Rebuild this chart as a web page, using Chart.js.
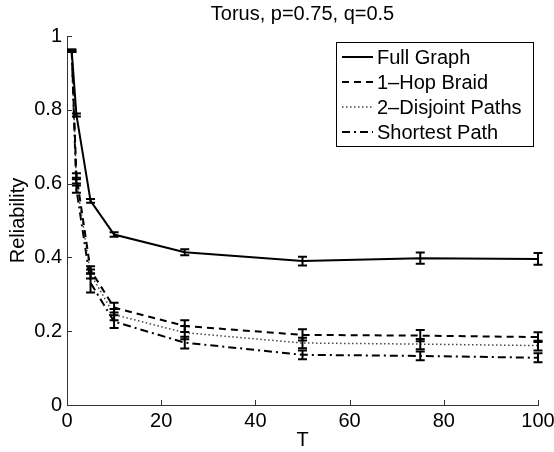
<!DOCTYPE html>
<html><head><meta charset="utf-8">
<script src="https://cdn.jsdelivr.net/npm/chart.js@4/dist/chart.umd.min.js"></script>
<style>html,body{margin:0;padding:0;background:#fff}#wrap{width:554px;height:452px}</style>
</head><body><div id="wrap"><canvas id="c" width="554" height="452"></canvas></div>
<script>
const T = [1, 2, 5, 10, 25, 50, 75, 100];
const seriesNames = ['Full Graph', '1\u2013Hop Braid', '2\u2013Disjoint Paths', 'Shortest Path'];
const fullGraph    = [0.960, 0.786, 0.553, 0.462, 0.414, 0.390, 0.398, 0.396];
const fullGraphErr = [0.003, 0.004, 0.005, 0.006, 0.008, 0.012, 0.015, 0.016];
const hopBraid     = [0.960, 0.622, 0.366, 0.264, 0.214, 0.190, 0.188, 0.184];
const hopBraidErr  = [0.003, 0.006, 0.010, 0.013, 0.016, 0.015, 0.015, 0.013];
const disjoint     = [0.960, 0.606, 0.355, 0.245, 0.196, 0.168, 0.165, 0.161];
const disjointErr  = [0.003, 0.006, 0.012, 0.015, 0.018, 0.014, 0.014, 0.013];
const shortest     = [0.960, 0.585, 0.331, 0.226, 0.169, 0.136, 0.133, 0.128];
const shortestErr  = [0.003, 0.010, 0.026, 0.017, 0.016, 0.012, 0.012, 0.012];
const xTicks = [0, 20, 40, 60, 80, 100];
const yTicks = [0, 0.2, 0.4, 0.6, 0.8, 1];
const titleText = 'Torus, p=0.75, q=0.5';
const xTitle = 'T';
const yTitle = 'Reliability';

const FONT = "'Liberation Sans', Arial, Helvetica, sans-serif";
const means = [fullGraph, hopBraid, disjoint, shortest];
const errs = [fullGraphErr, hopBraidErr, disjointErr, shortestErr];
const styles = [
  {color: '#000', width: 2, dash: []},
  {color: '#000', width: 2, dash: [7, 5]},
  {color: '#444', width: 1.5, dash: [1.5, 2.5]},
  {color: '#000', width: 2, dash: [8, 4, 2, 4]}
];

const datasets = means.map((m, i) => ({
  label: seriesNames[i],
  data: T.map((t, j) => ({x: t, y: m[j]})),
  borderColor: styles[i].color,
  borderWidth: styles[i].width,
  borderDash: styles[i].dash,
  pointRadius: 0,
  tension: 0,
  fill: false,
  errs: errs[i]
}));

const errorBars = {
  id: 'errorBars',
  afterDatasetsDraw(chart) {
    const ctx = chart.ctx, xs = chart.scales.x, ys = chart.scales.y;
    ctx.save();
    ctx.strokeStyle = '#000';
    ctx.lineWidth = 2;
    ctx.setLineDash([]);
    chart.data.datasets.forEach(ds => {
      ds.data.forEach((p, j) => {
        const e = ds.errs[j];
        const px = xs.getPixelForValue(p.x);
        const y1 = ys.getPixelForValue(p.y - e), y2 = ys.getPixelForValue(p.y + e);
        ctx.beginPath();
        ctx.moveTo(px, y1); ctx.lineTo(px, y2);
        ctx.moveTo(px - 4.5, y1); ctx.lineTo(px + 4.5, y1);
        ctx.moveTo(px - 4.5, y2); ctx.lineTo(px + 4.5, y2);
        ctx.stroke();
      });
    });
    ctx.restore();
  }
};

const innerTicks = {
  id: 'innerTicks',
  afterDraw(chart) {
    const ctx = chart.ctx, xs = chart.scales.x, ys = chart.scales.y, a = chart.chartArea;
    ctx.save();
    ctx.strokeStyle = '#333';
    ctx.lineWidth = 1;
    ctx.beginPath();
    yTicks.forEach(v => { const y = Math.round(ys.getPixelForValue(v)) + 0.5; ctx.moveTo(a.left, y); ctx.lineTo(a.left + 5, y); });
    xTicks.forEach(v => { const x = Math.round(xs.getPixelForValue(v)) + 0.5; ctx.moveTo(x, a.bottom); ctx.lineTo(x, a.bottom - 5); });
    ctx.stroke();
    ctx.restore();
  }
};

const boxLegend = {
  id: 'boxLegend',
  afterDraw(chart) {
    const ctx = chart.ctx;
    const bx = 336, by = 42, bw = 197, bh = 104;
    ctx.save();
    ctx.fillStyle = '#fff';
    ctx.fillRect(bx, by, bw, bh);
    ctx.strokeStyle = '#000';
    ctx.lineWidth = 1;
    ctx.setLineDash([]);
    ctx.strokeRect(bx + 0.5, by + 0.5, bw, bh);
    ctx.font = '20px ' + FONT;
    ctx.textBaseline = 'middle';
    ctx.fillStyle = '#000';
    chart.data.datasets.forEach((ds, i) => {
      const y = by + 15 + i * 25;
      ctx.strokeStyle = ds.borderColor;
      ctx.lineWidth = ds.borderWidth;
      ctx.setLineDash(ds.borderDash);
      ctx.beginPath(); ctx.moveTo(342, y); ctx.lineTo(373, y); ctx.stroke();
      ctx.setLineDash([]);
      ctx.fillText(ds.label, 377, y + 1);
    });
    ctx.restore();
  }
};

new Chart(document.getElementById('c'), {
  type: 'line',
  data: {datasets},
  options: {
    responsive: false,
    animation: false,
    devicePixelRatio: 1,
    layout: {padding: {left: 0, right: 0, top: 0, bottom: 0}},
    plugins: {
      legend: {display: false},
      tooltip: {enabled: false},
      title: {display: true, text: titleText, color: '#000', fullSize: false,
        font: {family: FONT, size: 20, weight: 'normal'}, padding: {top: 2, bottom: 10}}
    },
    scales: {
      x: {
        type: 'linear', min: 0, max: 100,
        afterBuildTicks: s => { s.ticks = xTicks.map(v => ({value: v})); },
        afterFit: s => { s.height = 47; s.paddingRight = 16; s.paddingLeft = 0; },
        grid: {display: true, drawOnChartArea: false, drawTicks: false},
        border: {display: true, color: '#333', width: 1},
        ticks: {color: '#000', padding: 4, maxRotation: 0, font: {family: FONT, size: 20},
          callback: v => String(v)},
        title: {display: true, text: xTitle, color: '#000', font: {family: FONT, size: 20}, padding: {top: 0, bottom: 0}}
      },
      y: {
        type: 'linear', min: 0, max: 1,
        afterBuildTicks: s => { s.ticks = yTicks.map(v => ({value: v})); },
        afterFit: s => { s.width = 67; },
        grid: {display: true, drawOnChartArea: false, drawTicks: false},
        border: {display: true, color: '#333', width: 1},
        ticks: {color: '#000', padding: 5, font: {family: FONT, size: 20},
          callback: v => String(v)},
        title: {display: true, text: yTitle, color: '#000', font: {family: FONT, size: 20}, padding: {top: 6, bottom: 0}}
      }
    }
  },
  plugins: [errorBars, innerTicks, boxLegend]
});
</script></body></html>
